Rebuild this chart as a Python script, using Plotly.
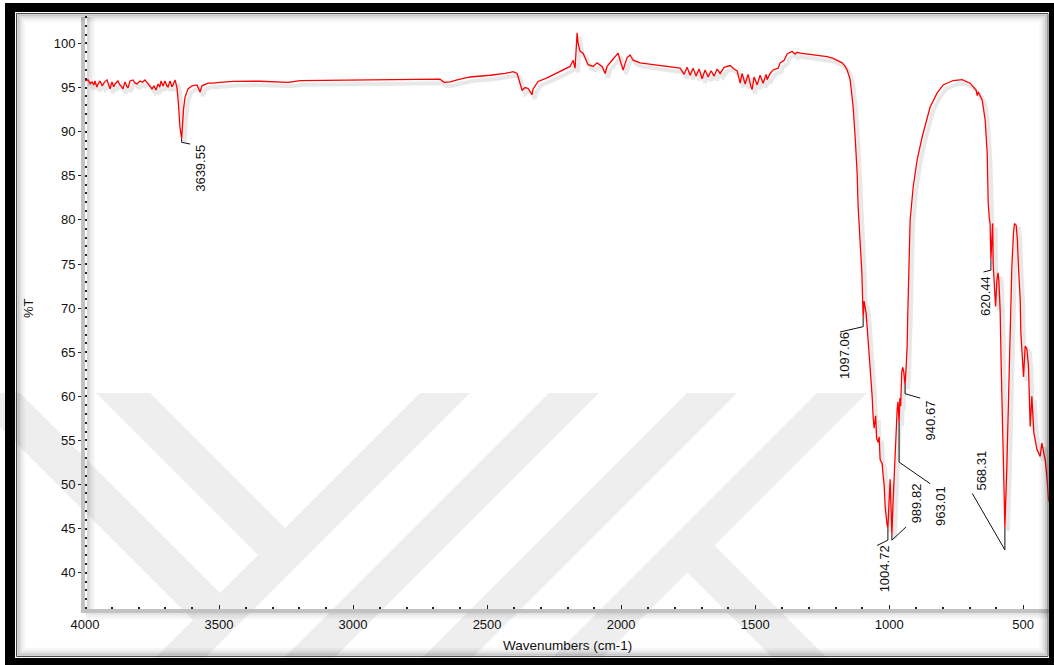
import plotly.graph_objects as go

# ---------------- spectrum data (cm-1, %T) ----------------
wavenumber = [
    4000.0, 3988.8, 3981.0, 3973.9, 3967.0, 3962.7, 3956.0, 3951.5, 3944.0, 3936.0,
    3929.1, 3917.9, 3912.0, 3906.7, 3899.3, 3893.0, 3888.1, 3876.9, 3870.0, 3865.7,
    3858.2, 3850.7, 3845.0, 3839.6, 3832.1, 3820.9, 3813.0, 3805.9, 3794.8, 3786.0,
    3776.1, 3761.2, 3750.0, 3742.5, 3735.1, 3727.6, 3721.0, 3716.4, 3708.9, 3701.5,
    3695.0, 3690.3, 3682.8, 3676.0, 3671.6, 3664.2, 3656.7, 3651.0, 3646.0, 3635.5,
    3632.5, 3626.9, 3615.7, 3600.8, 3582.1, 3570.9, 3563.4, 3541.1, 3522.4, 3496.3,
    3447.8, 3347.0, 3242.0, 3197.8, 3011.2, 2940.0, 2824.6, 2675.4, 2660.5, 2638.1,
    2608.3, 2563.5, 2488.8, 2432.9, 2403.0, 2388.1, 2369.4, 2358.2, 2347.0, 2332.1,
    2328.4, 2309.7, 2276.2, 2227.6, 2190.3, 2179.1, 2171.7, 2164.2, 2160.5, 2153.0,
    2141.8, 2123.2, 2104.5, 2089.6, 2070.9, 2059.7, 2052.3, 2033.6, 2014.9, 2011.2,
    2003.7, 1992.6, 1977.6, 1966.4, 1955.2, 1929.1, 1880.6, 1828.4, 1779.9, 1765.0,
    1753.8, 1742.6, 1731.4, 1720.2, 1709.0, 1697.8, 1686.6, 1675.4, 1664.2, 1653.0,
    1641.8, 1630.6, 1615.7, 1604.5, 1593.3, 1578.4, 1567.2, 1556.0, 1548.5, 1537.3,
    1526.1, 1514.9, 1511.2, 1503.8, 1492.6, 1481.4, 1470.2, 1459.0, 1455.3, 1444.1,
    1432.9, 1414.2, 1406.7, 1391.8, 1380.6, 1369.4, 1362.0, 1350.8, 1343.3, 1332.1,
    1306.0, 1283.6, 1257.5, 1231.4, 1209.0, 1194.1, 1175.4, 1164.2, 1156.7, 1145.6,
    1138.1, 1134.4, 1126.9, 1119.4, 1115.7, 1108.2, 1101.8, 1099.2, 1093.5, 1089.5,
    1085.9, 1082.2, 1078.5, 1070.9, 1063.4, 1059.7, 1056.0, 1050.4, 1046.7, 1041.1,
    1037.3, 1033.6, 1026.2, 1022.4, 1018.7, 1014.9, 1011.2, 1008.0, 1000.1, 996.4,
    992.6, 986.0, 982.0, 978.0, 974.0, 970.0, 967.0, 960.0, 957.0, 953.0,
    949.0, 945.0, 936.5, 933.0, 930.5, 928.0, 921.7, 910.5, 895.6, 876.9,
    847.1, 820.9, 798.5, 761.2, 727.6, 697.8, 675.4, 671.7, 667.9, 653.0,
    641.8, 634.4, 630.6, 626.5, 623.5, 617.5, 614.0, 612.0, 606.0, 603.0,
    598.0, 594.0, 591.0, 586.0, 582.0, 578.0, 574.0, 571.0, 561.0, 555.0,
    548.5, 542.3, 536.2, 532.4, 526.2, 521.5, 517.7, 511.2, 508.7, 504.9,
    498.8, 492.6, 486.4, 480.2, 476.5, 473.9, 467.7, 464.0, 460.2, 449.0,
    436.6, 430.4, 424.3, 418.0, 411.6, 405.5, 400.0,
]
transmittance = [
    95.75, 95.87, 95.45, 95.64, 95.30, 95.75, 95.05, 95.41, 95.75, 95.20,
    95.53, 95.87, 95.35, 94.85, 95.64, 95.10, 95.41, 95.75, 95.30, 95.19,
    94.85, 95.64, 95.20, 94.96, 95.75, 95.87, 95.50, 95.41, 95.75, 95.60,
    95.87, 95.30, 94.85, 95.19, 94.73, 95.41, 95.05, 95.75, 95.19, 95.75,
    95.20, 95.07, 95.75, 95.10, 95.30, 95.87, 94.96, 93.0, 90.6, 91.4,
    92.5, 93.9, 94.85, 95.2, 95.3, 94.5, 95.2, 95.5, 95.5, 95.6,
    95.7, 95.72, 95.6, 95.78, 95.85, 95.80, 95.9, 95.95, 95.6, 95.65,
    95.9, 96.2, 96.4, 96.6, 96.8, 96.6, 94.7, 95.0, 94.9, 94.2,
    94.85, 95.7, 96.1, 96.8, 97.4, 98.1, 97.2, 101.2, 100.0, 99.1,
    98.9, 97.6, 97.4, 97.8, 97.4, 96.6, 97.4, 98.1, 98.7, 98.9,
    98.1, 97.0, 98.4, 98.7, 98.1, 97.8, 97.6, 97.4, 97.2, 96.5,
    97.3, 96.4, 97.2, 96.3, 97.1, 96.0, 97.0, 96.2, 96.9, 96.3,
    97.1, 96.6, 97.3, 97.4, 97.5, 97.1, 96.9, 95.5, 96.6, 95.4,
    96.5, 95.0, 94.8, 96.2, 95.3, 96.4, 95.5, 96.5, 95.9, 96.6,
    97.0, 97.2, 97.8, 98.1, 98.8, 99.0, 99.1, 98.8, 99.0, 98.9,
    98.8, 98.7, 98.6, 98.5, 98.3, 98.1, 97.8, 97.4, 97.0, 95.9,
    94.0, 92.8, 89.4, 85.3, 81.5, 77.7, 74.0, 71.2, 70.8, 70.2,
    69.4, 67.9, 66.4, 63.8, 60.0, 57.6, 56.4, 57.8, 55.2, 54.8,
    55.4, 52.8, 52.4, 51.0, 50.0, 47.5, 46.0, 45.5, 48.6, 50.6,
    47.0, 47.6, 50.6, 54.4, 57.0, 58.6, 59.4, 59.8, 58.9, 62.8,
    63.3, 62.6, 63.4, 65.6, 69.4, 73.2, 80.0, 83.7, 86.8, 89.4,
    92.8, 94.4, 95.3, 95.8, 95.9, 95.5, 94.7, 94.1, 94.5, 93.6,
    91.3, 87.6, 82.0, 80.2, 79.6, 78.5, 79.6, 75.0, 71.0, 70.2,
    73.2, 74.0, 73.2, 69.8, 63.4, 57.7, 52.0, 48.3, 52.0, 59.6,
    67.2, 74.7, 78.5, 79.6, 79.4, 77.7, 74.7, 71.0, 67.2, 64.9,
    62.2, 65.7, 65.4, 63.4, 59.6, 56.6, 60.0, 58.2, 55.9, 54.0,
    53.2, 54.7, 53.6, 52.8, 50.9, 48.3, 47.8,
]

# labelled band minima
peak_wn = [3639.55, 1097.06, 1004.72, 989.82, 963.01, 940.67, 620.44, 568.31]
peak_T = [89.2, 69.0, 45.1, 44.3, 57.1, 61.3, 75.5, 45.2]
peak_text = ["3639.55", "1097.06", "1004.72", "989.82", "963.01", "940.67", "620.44", "568.31"]

# leader geometry for each label: knee height, leader end, label centre
knee_T = [88.8, 67.9, 43.7, 43.7, 52.55, 60.3, 74.3, 42.6]
lead_end = [(3608, 88.6), (1183, 67.3), (1045, 43.1), (937, 45.2),
            (847, 50.1), (884, 59.8), (648, 74.1), (690, 49.0)]
label_pos = [(3567, 85.8), (1164, 64.6), (1019, 40.4), (899, 47.9),
             (806, 47.6), (847, 57.3), (638, 71.4), (657, 51.6)]

# merge the labelled minima into the trace
pts = sorted(zip(wavenumber + peak_wn, transmittance + peak_T), key=lambda p: -p[0])
xs = [p[0] for p in pts]
ys = [p[1] for p in pts]

# ---------------- page geometry ----------------
W, H = 1054, 665
ML, MR, MT, MB = 85, 4, 17, 56
PW, PH = W - ML - MR, H - MT - MB
X_RANGE = [4000, 400]
Y_RANGE = [35.9, 103.0]
FONT = "Liberation Sans, Arial, sans-serif"


def fx(x):
    return (x - ML) / PW


def fy(y):
    return (H - MB - y) / PH


def poly_path(points):
    return "M " + " L ".join(f"{fx(x):.5f},{fy(y):.5f}" for x, y in points) + " Z"


shapes = []

# faint background emblem (diagonal bands)
WM = "#eeeeee"
bands = []
for left in (420, 549, 687, 817):
    bands.append([(left, 393), (left + 50, 393), (left + 50 - 280, 673), (left - 280, 673)])
bands.append([(96, 393), (150, 393), (285, 528), (258, 555)])
bands.append([(-34, 393), (20, 393), (220, 593), (193, 620)])
bands.append([(687.5, 572.5), (714.5, 545.5), (842, 673), (788, 673)])
for b in bands:
    shapes.append(dict(type="path", path=poly_path(b), xref="paper", yref="paper",
                       fillcolor=WM, line=dict(width=0), layer="below"))

# soft shadows along the axis lines
for i, a in enumerate([0.16, 0.10, 0.06, 0.03]):
    shapes.append(dict(type="rect", xref="paper", yref="paper",
                       x0=fx(86), x1=fx(1048), y0=fy(611 + 2 * i), y1=fy(613 + 2 * i),
                       fillcolor=f"rgba(0,0,0,{a})", line=dict(width=0), layer="below"))
    shapes.append(dict(type="rect", xref="paper", yref="paper",
                       x0=fx(87 + 2 * i), x1=fx(89 + 2 * i), y0=fy(609), y1=fy(17),
                       fillcolor=f"rgba(0,0,0,{a})", line=dict(width=0), layer="below"))

# leader lines
for wn, t, kt, (ex, ey) in zip(peak_wn, peak_T, knee_T, lead_end):
    shapes.append(dict(type="line", xref="x2", yref="y2", x0=wn, y0=t, x1=wn, y1=kt,
                       line=dict(color="#111111", width=1), layer="above"))
    shapes.append(dict(type="line", xref="x2", yref="y2", x0=wn, y0=kt, x1=ex, y1=ey,
                       line=dict(color="#111111", width=1), layer="above"))

# picture frame: black border, thin inner rule, inset shadow
for x0, y0, x1, y1 in [(5, 3, W, 12), (5, 3, 15, H), (5, 658, W, H), (1049, 3, W, H)]:
    shapes.append(dict(type="rect", xref="paper", yref="paper",
                       x0=fx(x0), x1=fx(x1), y0=fy(y1), y1=fy(y0),
                       fillcolor="#000000", line=dict(width=0), layer="above"))
shapes.append(dict(type="rect", xref="paper", yref="paper",
                   x0=fx(16.5), x1=fx(1048), y0=fy(656.5), y1=fy(13.5),
                   line=dict(color="#4a4a4a", width=1), layer="above"))
for i, a in enumerate([0.22, 0.13, 0.07, 0.03]):
    d = 1.8 + 2 * i
    shapes.append(dict(type="rect", xref="paper", yref="paper",
                       x0=fx(16.5 + d), x1=fx(1048 - d), y0=fy(656.5 - d), y1=fy(13.5 + d),
                       line=dict(color=f"rgba(0,0,0,{a})", width=2), layer="above"))

# ---------------- figure ----------------
fig = go.Figure()

# drop shadow of the spectrum (same data on a slightly offset hidden axis pair)
fig.add_trace(go.Scatter(x=xs, y=ys, mode="lines", xaxis="x", yaxis="y",
                         line=dict(color="rgba(0,0,0,0.09)", width=4),
                         hoverinfo="skip", showlegend=False))
fig.add_trace(go.Scatter(x=xs, y=ys, mode="lines", xaxis="x2", yaxis="y2",
                         line=dict(color="#ff0000", width=1.3),
                         showlegend=False))

annotations = []
for txt, (lx, ly) in zip(peak_text, label_pos):
    annotations.append(dict(x=lx, y=ly, xref="x2", yref="y2", text=txt, showarrow=False,
                            textangle=-90, xanchor="center", yanchor="middle",
                            font=dict(family=FONT, size=13, color="#111111")))
annotations.append(dict(x=fx(28), y=fy(308), xref="paper", yref="paper", text="%T",
                        showarrow=False, textangle=-90, xanchor="center", yanchor="middle",
                        font=dict(family=FONT, size=13, color="#111111")))
annotations.append(dict(x=fx(567), y=fy(645), xref="paper", yref="paper",
                        text="Wavenumbers (cm-1)", showarrow=False,
                        xanchor="center", yanchor="middle",
                        font=dict(family=FONT, size=13.5, color="#111111")))

px_per_x = PW / (X_RANGE[0] - X_RANGE[1])
px_per_y = PH / (Y_RANGE[1] - Y_RANGE[0])
sx, sy = 3 / px_per_x, 4 / px_per_y

fig.update_layout(
    width=W, height=H, autosize=False,
    margin=dict(l=ML, r=MR, t=MT, b=MB, pad=0),
    paper_bgcolor="white", plot_bgcolor="rgba(0,0,0,0)",
    showlegend=False,
    font=dict(family=FONT, size=13, color="#111111"),
    xaxis=dict(range=[X_RANGE[0] + sx, X_RANGE[1] + sx], visible=False, fixedrange=True),
    yaxis=dict(range=[Y_RANGE[0] + sy, Y_RANGE[1] + sy], visible=False, fixedrange=True),
    xaxis2=dict(overlaying="x", anchor="y2", side="bottom", range=X_RANGE,
                showgrid=False, zeroline=False,
                showline=True, linecolor="#c2c2c2", linewidth=4,
                ticks="inside", ticklen=4, tickwidth=1, tickcolor="#222222",
                tick0=0, dtick=500,
                minor=dict(ticks="inside", ticklen=2, tickwidth=2, tickcolor="#222222",
                           dtick=100, showgrid=False),
                tickfont=dict(family=FONT, size=13, color="#111111")),
    yaxis2=dict(overlaying="y", anchor="x2", side="left", range=Y_RANGE,
                showgrid=False, zeroline=False,
                showline=True, linecolor="#c2c2c2", linewidth=4,
                ticks="outside", ticklen=3, tickwidth=1, tickcolor="#222222",
                tick0=0, dtick=5,
                minor=dict(ticks="inside", ticklen=2, tickwidth=2, tickcolor="#222222",
                           dtick=1, showgrid=False),
                tickfont=dict(family=FONT, size=13, color="#111111")),
    shapes=shapes,
    annotations=annotations,
)

fig.write_html("out.html")
